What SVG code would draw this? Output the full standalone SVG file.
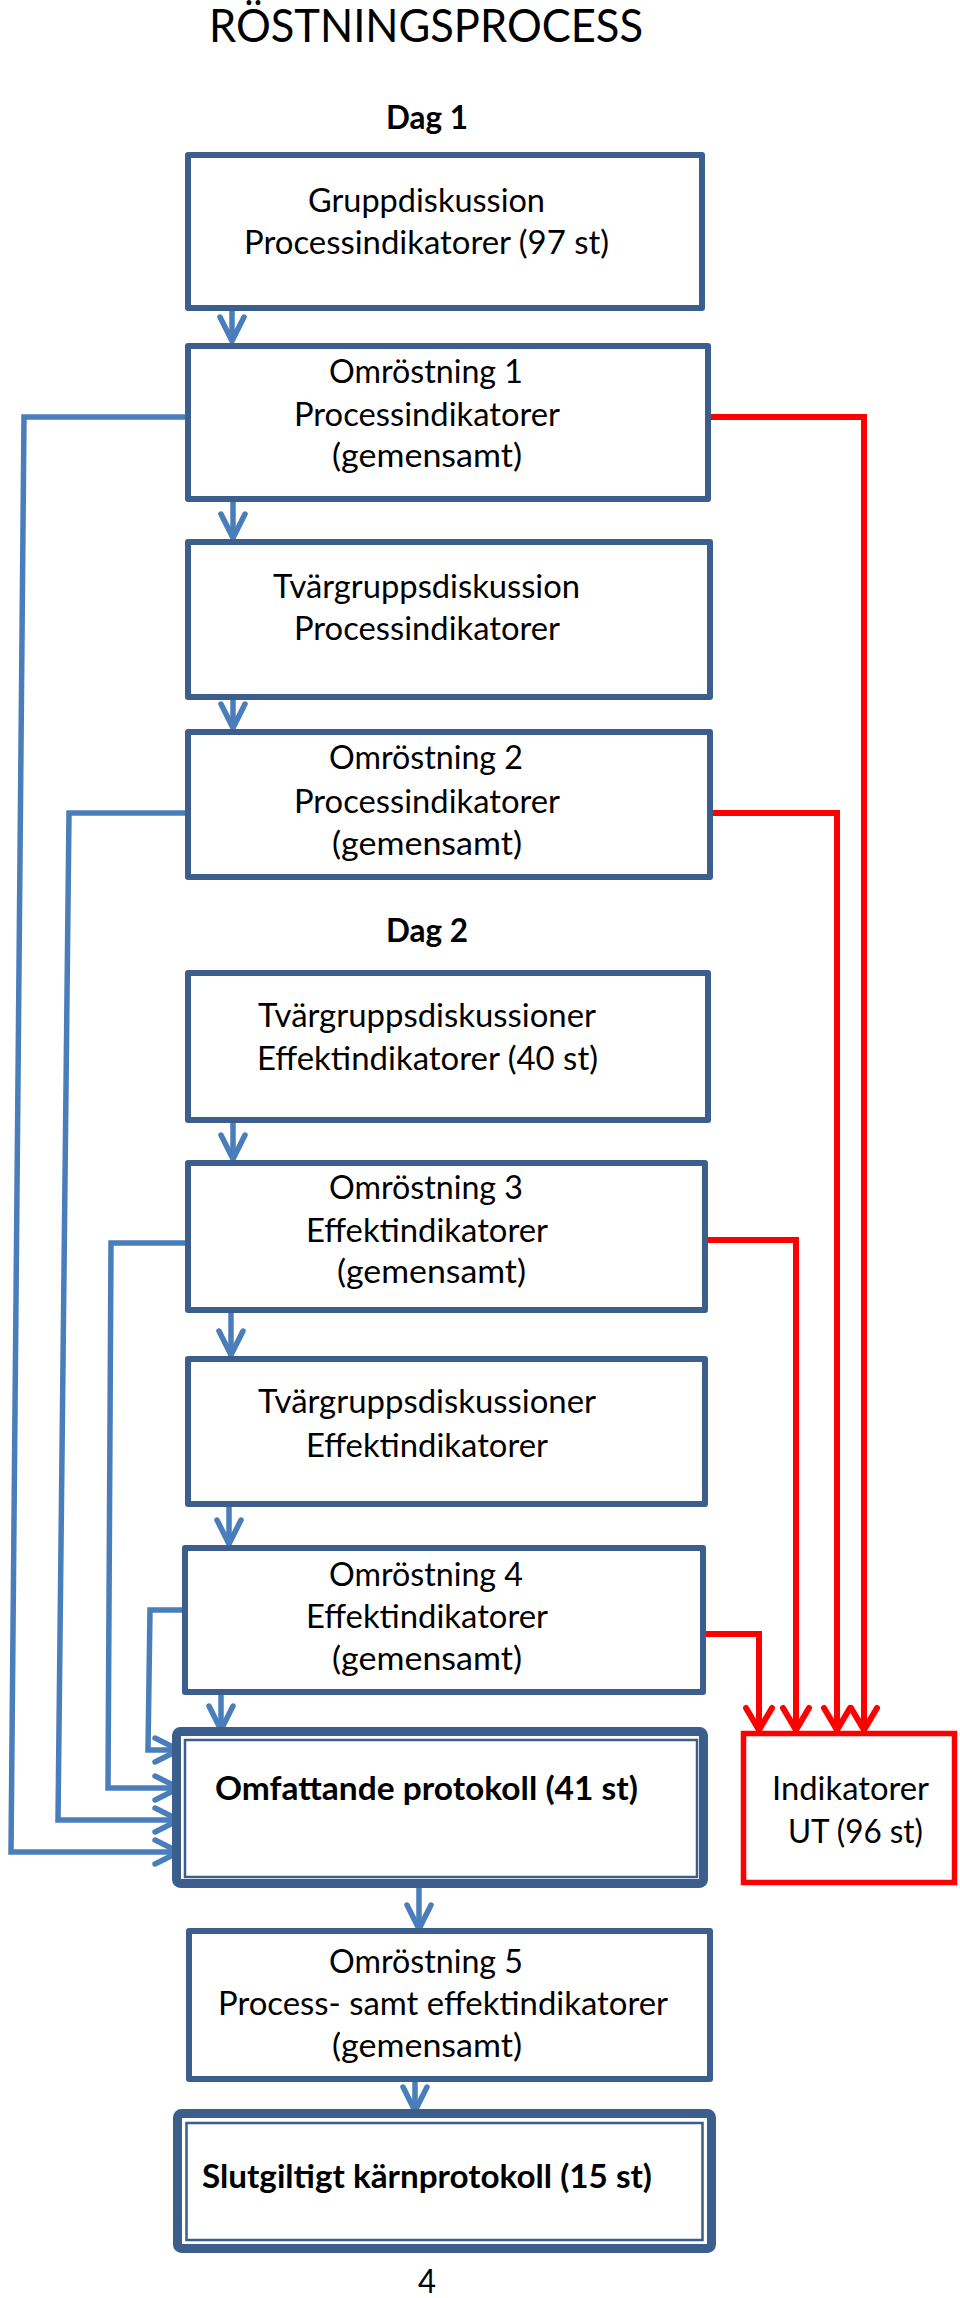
<svg xmlns="http://www.w3.org/2000/svg" width="960" height="2298" viewBox="0 0 960 2298">
<style>
.box{fill:#fff;stroke:#3B5E8C;stroke-width:6;stroke-linejoin:round}
.outer{fill:#fff;stroke:#3B5E8C;stroke-width:9;stroke-linejoin:round}
.inner{fill:none;stroke:#3B5E8C;stroke-width:2.5}
.redbox{fill:#fff;stroke:#FF0000;stroke-width:5.5}
.t{font-family:Lato,"Liberation Sans",sans-serif;font-size:32px;fill:#000}
.b{font-family:Lato,"Liberation Sans",sans-serif;font-size:32px;font-weight:bold;fill:#000}
.title{font-family:Lato,"Liberation Sans",sans-serif;font-size:46px;fill:#000}
.blue{fill:none;stroke:#4A7EBB;stroke-width:5.5;marker-end:url(#ab)}
.red{fill:none;stroke:#FF0000;stroke-width:6;marker-end:url(#ar)}
</style>
<defs>
<marker id="ab" markerUnits="userSpaceOnUse" viewBox="-30 -16 34 32" refX="0" refY="0" markerWidth="34" markerHeight="32" orient="auto" overflow="visible">
<path d="M-24,-12 L0,0 L-24,12" fill="none" stroke="#4A7EBB" stroke-width="5.5" stroke-linecap="round" stroke-linejoin="round"/>
</marker>
<marker id="ar" markerUnits="userSpaceOnUse" viewBox="-30 -16 34 32" refX="0" refY="0" markerWidth="34" markerHeight="32" orient="auto" overflow="visible">
<path d="M-22,-13 L0,0 L-22,13" fill="none" stroke="#FF0000" stroke-width="6" stroke-linecap="round" stroke-linejoin="round"/>
</marker>
</defs>
<rect width="960" height="2298" fill="#fff"/>
<text class="title" x="209" y="42" textLength="434" lengthAdjust="spacingAndGlyphs">RÖSTNINGSPROCESS</text>
<text class="b" x="386" y="129" textLength="82" lengthAdjust="spacingAndGlyphs">Dag 1</text>
<text class="b" x="386" y="942" textLength="82" lengthAdjust="spacingAndGlyphs">Dag 2</text>
<text class="t" x="418" y="2293" textLength="18" lengthAdjust="spacingAndGlyphs">4</text>

<g id="connectors">
<path class="blue" d="M232,311 L232,341"/>
<path class="blue" d="M233,502 L233,538"/>
<path class="blue" d="M233,700 L233,728"/>
<path class="blue" d="M233,1123 L233,1159"/>
<path class="blue" d="M231,1313 L231,1355"/>
<path class="blue" d="M229,1507 L229,1544"/>
<path class="blue" d="M221,1695 L221,1730"/>
<path class="blue" d="M419,1888 L419,1929"/>
<path class="blue" d="M415,2082 L415,2111"/>
<path class="blue" d="M186,417 L24,417 L11,1852 L179,1852"/>
<path class="blue" d="M186,813 L69,813 L58,1820 L179,1820"/>
<path class="blue" d="M186,1243 L111,1243 L108,1788 L179,1788"/>
<path class="blue" d="M183,1610 L150,1610 L148,1750 L179,1750"/>
<path class="red" d="M710,417 L864,417 L864,1730"/>
<path class="red" d="M712,813 L837,813 L837,1730"/>
<path class="red" d="M707,1240 L796,1240 L796,1730"/>
<path class="red" d="M705,1634 L759,1634 L759,1730"/>
</g>

<g id="n1">
<rect class="box" x="188" y="155" width="514" height="153"/>
<text class="t" x="308" y="212" textLength="237" lengthAdjust="spacingAndGlyphs">Gruppdiskussion</text>
<text class="t" x="244" y="254" textLength="365" lengthAdjust="spacingAndGlyphs">Processindikatorer (97 st)</text>
</g>
<g id="n2">
<rect class="box" x="188" y="346" width="520" height="153"/>
<text class="t" x="329" y="383" textLength="194" lengthAdjust="spacingAndGlyphs">Omröstning 1</text>
<text class="t" x="294" y="426" textLength="266" lengthAdjust="spacingAndGlyphs">Processindikatorer</text>
<text class="t" x="332" y="467" textLength="190" lengthAdjust="spacingAndGlyphs">(gemensamt)</text>
</g>
<g id="n3">
<rect class="box" x="188" y="542" width="522" height="155"/>
<text class="t" x="273" y="598" textLength="307" lengthAdjust="spacingAndGlyphs">Tvärgruppsdiskussion</text>
<text class="t" x="294" y="640" textLength="266" lengthAdjust="spacingAndGlyphs">Processindikatorer</text>
</g>
<g id="n4">
<rect class="box" x="188" y="732" width="522" height="145"/>
<text class="t" x="329" y="769" textLength="194" lengthAdjust="spacingAndGlyphs">Omröstning 2</text>
<text class="t" x="294" y="813" textLength="266" lengthAdjust="spacingAndGlyphs">Processindikatorer</text>
<text class="t" x="332" y="855" textLength="190" lengthAdjust="spacingAndGlyphs">(gemensamt)</text>
</g>
<g id="n5">
<rect class="box" x="188" y="973" width="520" height="147"/>
<text class="t" x="258" y="1027" textLength="338" lengthAdjust="spacingAndGlyphs">Tvärgruppsdiskussioner</text>
<text class="t" x="257" y="1070" textLength="341" lengthAdjust="spacingAndGlyphs">Effektindikatorer (40 st)</text>
</g>
<g id="n6">
<rect class="box" x="188" y="1163" width="517" height="147"/>
<text class="t" x="329" y="1199" textLength="194" lengthAdjust="spacingAndGlyphs">Omröstning 3</text>
<text class="t" x="306" y="1242" textLength="242" lengthAdjust="spacingAndGlyphs">Effektindikatorer</text>
<text class="t" x="337" y="1283" textLength="189" lengthAdjust="spacingAndGlyphs">(gemensamt)</text>
</g>
<g id="n7">
<rect class="box" x="188" y="1359" width="517" height="145"/>
<text class="t" x="258" y="1413" textLength="338" lengthAdjust="spacingAndGlyphs">Tvärgruppsdiskussioner</text>
<text class="t" x="306" y="1457" textLength="242" lengthAdjust="spacingAndGlyphs">Effektindikatorer</text>
</g>
<g id="n8">
<rect class="box" x="185" y="1548" width="518" height="144"/>
<text class="t" x="329" y="1586" textLength="194" lengthAdjust="spacingAndGlyphs">Omröstning 4</text>
<text class="t" x="306" y="1628" textLength="242" lengthAdjust="spacingAndGlyphs">Effektindikatorer</text>
<text class="t" x="332" y="1670" textLength="190" lengthAdjust="spacingAndGlyphs">(gemensamt)</text>
</g>
<g id="n9">
<rect class="outer" x="176.5" y="1731.5" width="527" height="152" rx="4"/>
<rect class="inner" x="185" y="1740" width="512" height="137"/>
<text class="b" x="215" y="1800" textLength="423" lengthAdjust="spacingAndGlyphs">Omfattande protokoll (41 st)</text>
</g>
<g id="n_ut">
<rect class="redbox" x="743.5" y="1733.5" width="211" height="149"/>
<text class="t" x="772" y="1800" textLength="157" lengthAdjust="spacingAndGlyphs">Indikatorer</text>
<text class="t" x="788" y="1843" textLength="135" lengthAdjust="spacingAndGlyphs">UT (96 st)</text>
</g>
<g id="n10">
<rect class="box" x="189" y="1931" width="521" height="148"/>
<text class="t" x="329" y="1973" textLength="194" lengthAdjust="spacingAndGlyphs">Omröstning 5</text>
<text class="t" x="218" y="2015" textLength="450" lengthAdjust="spacingAndGlyphs">Process- samt effektindikatorer</text>
<text class="t" x="332" y="2057" textLength="190" lengthAdjust="spacingAndGlyphs">(gemensamt)</text>
</g>
<g id="n11">
<rect class="outer" x="177.5" y="2113.5" width="534" height="135" rx="4"/>
<rect class="inner" x="186.5" y="2123" width="516" height="117"/>
<text class="b" x="202" y="2188" textLength="450" lengthAdjust="spacingAndGlyphs">Slutgiltigt kärnprotokoll (15 st)</text>
</g>
</svg>
